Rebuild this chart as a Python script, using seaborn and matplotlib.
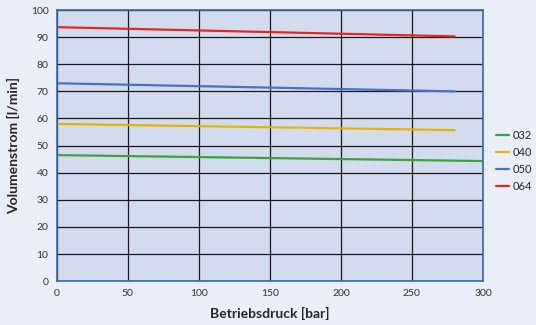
import matplotlib

matplotlib.use("Agg")
import matplotlib.pyplot as plt
import pandas as pd
import seaborn as sns

# Werte
druck_kurz = [0, 280]
druck_lang = [0, 300]
werte_032 = [46.5, 44.3]
werte_040 = [58.0, 55.7]
werte_050 = [73.0, 70.0]
werte_064 = [93.7, 90.3]
serien = ["032", "040", "050", "064"]
farben = ["#3AA53A", "#E8B400", "#4A72C4", "#E8261E"]

df = pd.concat(
    [
        pd.DataFrame({"druck": druck_lang, "strom": werte_032, "typ": "032"}),
        pd.DataFrame({"druck": druck_kurz, "strom": werte_040, "typ": "040"}),
        pd.DataFrame({"druck": druck_kurz, "strom": werte_050, "typ": "050"}),
        pd.DataFrame({"druck": druck_kurz, "strom": werte_064, "typ": "064"}),
    ],
    ignore_index=True,
)

sns.set_style("white")
plt.rcParams["font.family"] = ["Lato", "DejaVu Sans"]

fig = plt.figure(figsize=(5.36, 3.25), dpi=100, facecolor="#E9EEF8")
ax = fig.add_axes([0.106, 0.135, 0.795, 0.834])
ax.set_facecolor("#D3DBEF")

sns.lineplot(
    data=df, x="druck", y="strom", hue="typ", hue_order=serien,
    palette=farben, linewidth=1.6, ax=ax,
)

ax.set_xlim(0, 300)
ax.set_ylim(0, 100)
ax.set_xticks(range(0, 301, 50))
ax.set_yticks(range(0, 101, 10))
ax.grid(True, color="#1a1a1a", linewidth=0.9)
ax.set_axisbelow(True)
ax.tick_params(axis="both", length=0, labelsize=7.5, colors="#333333", pad=6)
for s in ax.spines.values():
    s.set_color("#2E6DB4")
    s.set_linewidth(1.2)

ax.set_xlabel("Betriebsdruck [bar]", fontsize=10, fontweight="bold", labelpad=6)
ax.set_ylabel("Volumenstrom [l/min]", fontsize=10, fontweight="bold", labelpad=8)

ax.legend(
    loc="center left", bbox_to_anchor=(0.925, 0.505),
    bbox_transform=fig.transFigure, frameon=False, borderpad=0,
    borderaxespad=0, fontsize=8, handlelength=1.2, handletextpad=0.35,
    labelspacing=0.55, title=None,
)

fig.savefig("out.png", dpi=100, facecolor=fig.get_facecolor())
